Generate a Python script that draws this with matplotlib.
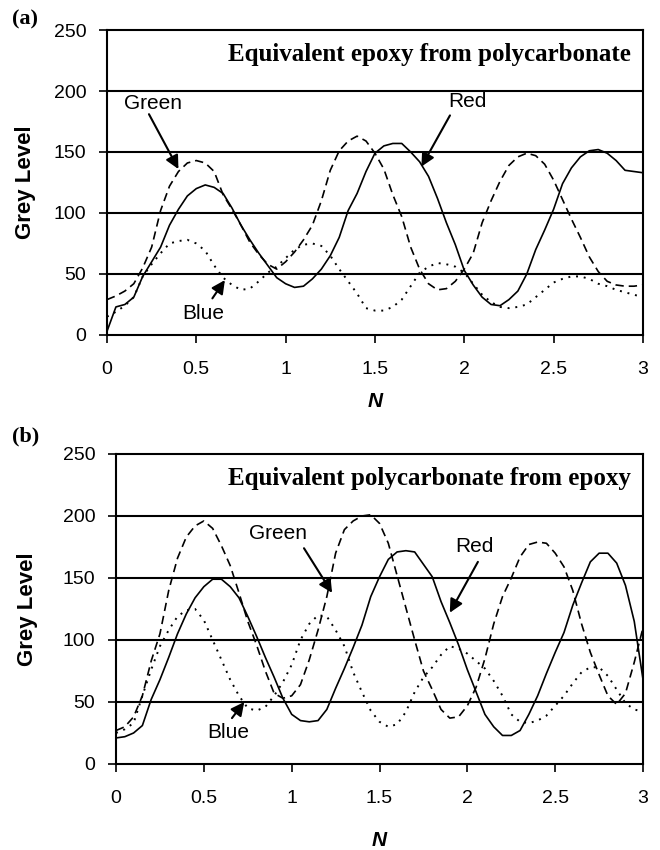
import numpy as np
import matplotlib
matplotlib.use('Agg')
import matplotlib.pyplot as plt

plt.rcParams['font.family'] = ['Liberation Sans', 'DejaVu Sans']

# Eje N comun a todas las curvas
n_vals = [0.00, 0.05, 0.10, 0.15, 0.20, 0.25, 0.30, 0.35, 0.40, 0.45,
          0.50, 0.55, 0.60, 0.65, 0.70, 0.75, 0.80, 0.85, 0.90, 0.95,
          1.00, 1.05, 1.10, 1.15, 1.20, 1.25, 1.30, 1.35, 1.40, 1.45,
          1.50, 1.55, 1.60, 1.65, 1.70, 1.75, 1.80, 1.85, 1.90, 1.95,
          2.00, 2.05, 2.10, 2.15, 2.20, 2.25, 2.30, 2.35, 2.40, 2.45,
          2.50, 2.55, 2.60, 2.65, 2.70, 2.75, 2.80, 2.85, 2.90, 2.95,
          3.00]

# (a) epoxy equivalente desde policarbonato
red_a = [3, 23, 25, 31, 48, 60, 72, 90, 103, 114,
         120, 123, 121, 116, 104, 90, 78, 67, 57, 47,
         42, 39, 40, 46, 54, 65, 80, 102, 116, 134,
         149, 155, 157, 157, 150, 142, 130, 112, 92, 74,
         53, 41, 31, 25, 24, 29, 36, 50, 70, 86,
         103, 124, 137, 146, 151, 152, 149, 143, 135, 134,
         133]
green_a = [29, 32, 36, 42, 55, 72, 102, 122, 134, 141,
           143, 141, 134, 115, 103, 90, 76, 66, 58, 54,
           60, 68, 78, 90, 110, 135, 151, 159, 163, 159,
           149, 136, 115, 97, 72, 54, 42, 37, 38, 44,
           54, 67, 92, 110, 126, 139, 146, 149, 147, 140,
           127, 111, 95, 80, 64, 52, 44, 41, 40, 40,
           41]
blue_a = [15, 19, 24, 31, 48, 58, 67, 75, 77, 78,
          75, 69, 57, 47, 41, 37, 38, 44, 51, 56,
          63, 70, 74, 75, 73, 65, 54, 44, 34, 22,
          20, 20, 23, 29, 40, 51, 56, 59, 58, 56,
          51, 42, 33, 27, 23, 22, 23, 25, 31, 37,
          43, 46, 48, 48, 46, 42, 40, 37, 35, 33,
          31]

# (b) policarbonato equivalente desde epoxy
red_b = [21, 22, 25, 31, 52, 68, 86, 105, 121, 134,
         143, 149, 149, 143, 134, 119, 103, 86, 70, 53,
         40, 35, 34, 35, 44, 61, 77, 94, 112, 135,
         151, 165, 171, 172, 171, 161, 151, 131, 114, 96,
         76, 58, 40, 30, 23, 23, 27, 40, 55, 73,
         90, 106, 128, 146, 163, 170, 170, 162, 144, 115,
         68]
green_b = [27, 30, 38, 55, 83, 105, 140, 166, 183, 192,
           196, 190, 176, 160, 138, 115, 96, 75, 57, 53,
           55, 64, 84, 108, 135, 170, 189, 196, 200, 201,
           194, 178, 152, 126, 100, 75, 60, 44, 37, 38,
           47, 62, 85, 113, 135, 150, 167, 177, 179, 178,
           170, 159, 140, 113, 90, 72, 55, 48, 57, 82,
           110]
blue_b = [25, 28, 33, 55, 76, 95, 108, 119, 124, 125,
          116, 100, 84, 68, 55, 45, 43, 46, 55, 66,
          80, 100, 113, 120, 119, 108, 95, 74, 58, 43,
          34, 30, 32, 42, 58, 70, 78, 88, 95, 93,
          89, 83, 77, 67, 55, 40, 34, 33, 35, 39,
          47, 55, 65, 74, 78, 78, 71, 60, 49, 44,
          42]

x_ticks = [0, 0.5, 1, 1.5, 2, 2.5, 3]
x_tick_labels = ['0', '0.5', '1', '1.5', '2', '2.5', '3']
y_ticks = [0, 50, 100, 150, 200, 250]

# Etiquetas con flecha: (texto, posicion texto, origen flecha, punta flecha)
notes_a = [('Green', (0.26, 190), (0.235, 181), (0.40, 136)),
           ('Red', (2.02, 191), (1.92, 180), (1.76, 138)),
           ('Blue', (0.54, 18), (0.59, 30), (0.66, 45))]
notes_b = [('Green', (0.92, 186), (1.07, 174), (1.23, 138)),
           ('Red', (2.04, 175), (2.06, 163), (1.90, 122)),
           ('Blue', (0.64, 25), (0.66, 37), (0.73, 50))]


def draw_panel(ax, red, green, blue, title, notes, tag, tag_pos, ylab_x, xlab_y):
    ax.plot(n_vals, red, color='black', lw=1.2, ls='-')
    ax.plot(n_vals, green, color='black', lw=1.2, ls=(0, (5, 3)))
    ax.plot(n_vals, blue, color='black', lw=1.4, ls=(0, (1, 3)))

    for yv in [50, 100, 150, 200]:
        ax.axhline(yv, color='black', lw=1.5, zorder=0)

    ax.set_xlim(0, 3)
    ax.set_ylim(0, 250)
    ax.set_xticks(x_ticks)
    ax.set_xticklabels(x_tick_labels)
    ax.set_yticks(y_ticks)
    ax.tick_params(axis='both', direction='out', length=6, width=1.2,
                   labelsize=14)
    ax.tick_params(axis='x', pad=13)
    ax.tick_params(axis='y', pad=9)
    for sp in ax.spines.values():
        sp.set_linewidth(1.5)

    ax.set_ylabel('Grey Level', fontsize=16, fontweight='bold')
    ax.yaxis.set_label_coords(ylab_x, 0.5)
    ax.set_xlabel('N', fontsize=15, fontweight='bold', style='italic')
    ax.xaxis.set_label_coords(0.5, xlab_y)

    ax.text(2.93, 230, title, ha='right', va='center', fontsize=18,
            fontweight='bold', family='Liberation Serif')

    for txt, tpos, tail, head in notes:
        ax.text(tpos[0], tpos[1], txt, ha='center', va='center', fontsize=15)
        ax.annotate('', xy=head, xytext=tail,
                    arrowprops=dict(arrowstyle='-|>', color='black', lw=1.5,
                                    mutation_scale=20, shrinkA=0, shrinkB=0))

    ax.text(tag_pos[0], tag_pos[1], tag, transform=ax.transAxes, fontsize=16,
            fontweight='bold', family='Liberation Serif', ha='left', va='center')


fig = plt.figure(figsize=(6.6, 8.5), dpi=100)
ax1 = fig.add_axes([0.1621, 0.6059, 0.812, 0.3588])
ax2 = fig.add_axes([0.1758, 0.1012, 0.7985, 0.3647])

draw_panel(ax1, red_a, green_a, blue_a, 'Equivalent epoxy from polycarbonate',
           notes_a, '(a)', (-0.177, 1.033), -0.132, -0.187)
draw_panel(ax2, red_b, green_b, blue_b, 'Equivalent polycarbonate from epoxy',
           notes_b, '(b)', (-0.197, 1.055), -0.148, -0.216)

fig.savefig('out.png', dpi=100)
